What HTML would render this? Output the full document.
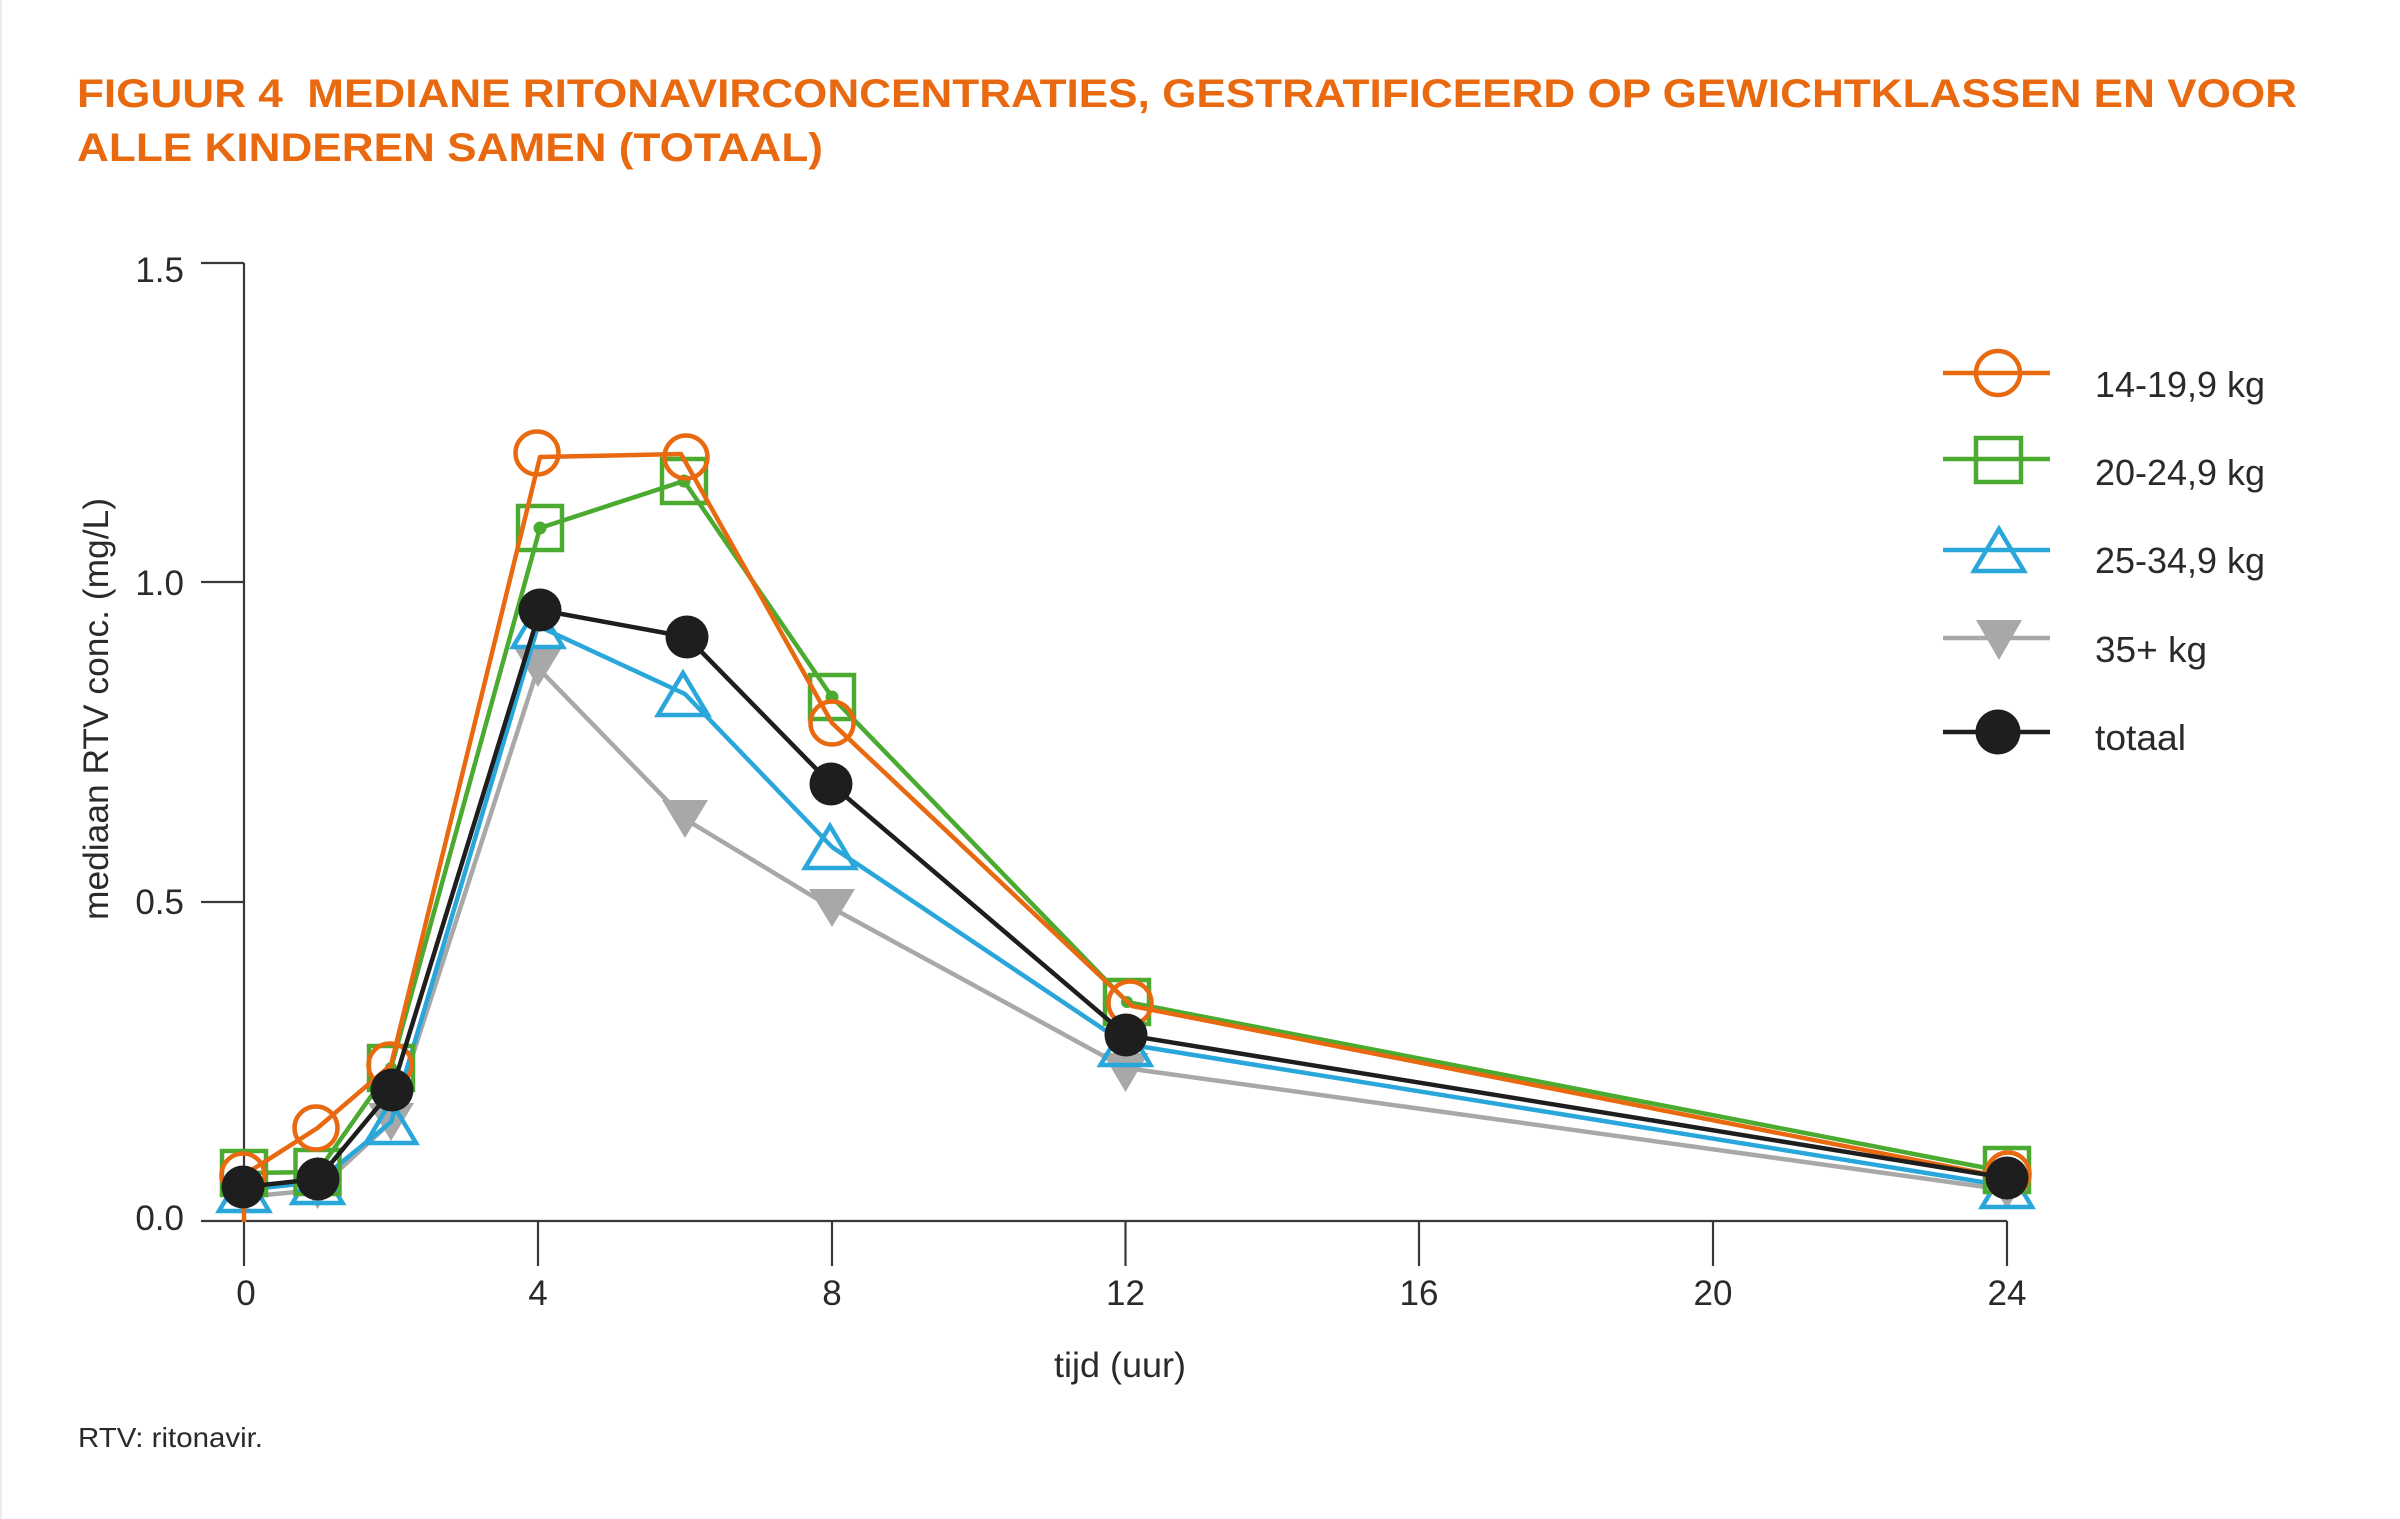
<!DOCTYPE html>
<html>
<head>
<meta charset="utf-8">
<style>
html,body{margin:0;padding:0;background:#fff;}
svg{display:block;}
text{font-family:"Liberation Sans",sans-serif;}
</style>
</head>
<body>
<svg width="2400" height="1519" viewBox="0 0 2400 1519" xmlns="http://www.w3.org/2000/svg">
<rect x="0" y="0" width="2400" height="1519" fill="#ffffff"/>
<line x1="1" y1="0" x2="1" y2="1519" stroke="#ececec" stroke-width="2"/>

<!-- Title -->
<text x="77" y="107" font-size="40" font-weight="bold" fill="#e8690f" textLength="2220" lengthAdjust="spacingAndGlyphs">FIGUUR 4&#160; MEDIANE RITONAVIRCONCENTRATIES, GESTRATIFICEERD OP GEWICHTKLASSEN EN VOOR</text>
<text x="77" y="161" font-size="40" font-weight="bold" fill="#e8690f" textLength="746" lengthAdjust="spacingAndGlyphs">ALLE KINDEREN SAMEN (TOTAAL)</text>

<!-- Axes -->
<g stroke="#383838" stroke-width="2.2" fill="none">
  <line x1="244" y1="263" x2="244" y2="1266"/>
  <line x1="201" y1="1221" x2="2007" y2="1221"/>
  <line x1="201" y1="263" x2="244" y2="263"/>
  <line x1="201" y1="582" x2="244" y2="582"/>
  <line x1="201" y1="902" x2="244" y2="902"/>
  <line x1="538" y1="1221" x2="538" y2="1266"/>
  <line x1="832" y1="1221" x2="832" y2="1266"/>
  <line x1="1125.5" y1="1221" x2="1125.5" y2="1266"/>
  <line x1="1419" y1="1221" x2="1419" y2="1266"/>
  <line x1="1713" y1="1221" x2="1713" y2="1266"/>
  <line x1="2007" y1="1221" x2="2007" y2="1266"/>
</g>

<!-- Y tick labels -->
<g font-size="35" fill="#2a2a2a" text-anchor="end">
  <text x="184" y="282">1.5</text>
  <text x="184" y="595">1.0</text>
  <text x="184" y="914">0.5</text>
  <text x="184" y="1230">0.0</text>
</g>
<!-- X tick labels -->
<g font-size="35" fill="#2a2a2a" text-anchor="middle">
  <text x="246" y="1305">0</text>
  <text x="538" y="1305">4</text>
  <text x="832" y="1305">8</text>
  <text x="1125.5" y="1305">12</text>
  <text x="1419" y="1305">16</text>
  <text x="1713" y="1305">20</text>
  <text x="2007" y="1305">24</text>
</g>

<!-- Axis titles -->
<text x="1120" y="1377" font-size="35" fill="#2a2a2a" text-anchor="middle" textLength="132" lengthAdjust="spacingAndGlyphs">tijd (uur)</text>
<text transform="translate(108,709) rotate(-90)" font-size="35" fill="#2a2a2a" text-anchor="middle" textLength="422" lengthAdjust="spacingAndGlyphs">mediaan RTV conc. (mg/L)</text>

<!-- Footnote -->
<text x="78" y="1447" font-size="28" fill="#2a2a2a" textLength="185" lengthAdjust="spacingAndGlyphs">RTV: ritonavir.</text>

<!-- Series: gray 35+ kg -->
<polyline fill="none" stroke="#a8a8a8" stroke-width="4.5" stroke-linejoin="round"
  points="244,1197 317.5,1190 391,1122 538,668 685,819 832,908 1125.5,1068 2007,1190"/>
<g fill="#a8a8a8">
  <polygon points="221,1178 267,1178 244,1216"/>
  <polygon points="294.5,1171 340.5,1171 317.5,1209"/>
  <polygon points="368,1103 414,1103 391,1141"/>
  <polygon points="515,649 561,649 538,687"/>
  <polygon points="662,800 708,800 685,838"/>
  <polygon points="809,889 855,889 832,927"/>
  <polygon points="1102.5,1053 1148.5,1053 1125.5,1092"/>
  <polygon points="1984,1171 2030,1171 2007,1209"/>
</g>

<!-- Series: blue 25-34,9 kg -->
<polyline fill="none" stroke="#2aa7da" stroke-width="4.5" stroke-linejoin="round"
  points="244,1190 317.5,1182 391,1122 538,626 685,694 832,847 1125.5,1044 2007,1186"/>
<g fill="none" stroke="#2aa7da" stroke-width="4.5" stroke-linejoin="miter">
  <polygon points="244,1169 269,1211 219,1211"/>
  <polygon points="317.5,1161 342.5,1203 292.5,1203"/>
  <polygon points="391,1101 416,1143 366,1143"/>
  <polygon points="538,605 563,647 513,647"/>
  <polygon points="683,673 708,715 658,715"/>
  <polygon points="830,826 855,868 805,868"/>
  <polygon points="1125.5,1023 1150.5,1065 1100.5,1065"/>
  <polygon points="2007,1165 2032,1207 1982,1207"/>
</g>

<!-- Series: green 20-24,9 kg -->
<polyline fill="none" stroke="#4aab30" stroke-width="4.5" stroke-linejoin="round"
  points="244,1173 317.5,1172 391,1068 540,528 684,481 832,697 1127,1002 2007,1172"/>
<g fill="none" stroke="#4aab30" stroke-width="4.5">
  <rect x="222" y="1151" width="44" height="44"/>
  <rect x="295.5" y="1150" width="44" height="44"/>
  <rect x="369" y="1046" width="44" height="44"/>
  <rect x="518" y="506" width="44" height="44"/>
  <rect x="662" y="459" width="44" height="44"/>
  <rect x="810" y="675" width="44" height="44"/>
  <rect x="1105" y="980" width="44" height="44"/>
  <rect x="1985" y="1148" width="44" height="44"/>
</g>
<g fill="#4aab30">
  <circle cx="391" cy="1068" r="6"/>
  <circle cx="540" cy="528" r="6.5"/>
  <circle cx="684" cy="481" r="6.5"/>
  <circle cx="832" cy="697" r="6.5"/>
  <circle cx="1127" cy="1002" r="6"/>
</g>

<!-- Series: orange 14-19,9 kg -->
<line x1="244" y1="1190" x2="244" y2="1222" stroke="#e8690f" stroke-width="4.5"/>
<polyline fill="none" stroke="#e8690f" stroke-width="4.5" stroke-linejoin="round"
  points="244,1175 317.5,1128 391,1065 540,457 681,454 832,723 1132,1006 2007,1178"/>
<g fill="none" stroke="#e8690f" stroke-width="4.5">
  <circle cx="243" cy="1175" r="21.5"/>
  <circle cx="316" cy="1128" r="21.5"/>
  <circle cx="390" cy="1065" r="21.5"/>
  <circle cx="537" cy="453" r="21.5"/>
  <circle cx="686" cy="457" r="21.5"/>
  <circle cx="832" cy="723" r="21.5"/>
  <circle cx="1130" cy="1003" r="21.5"/>
  <circle cx="2008" cy="1174" r="21.5"/>
</g>

<!-- Series: black totaal -->
<polyline fill="none" stroke="#1e1e1e" stroke-width="4.5" stroke-linejoin="round"
  points="243,1187 318,1179 392,1090 540,610 687,637 831,784 1126,1035 2007,1178"/>
<g fill="#1e1e1e">
  <circle cx="243" cy="1187" r="21.5"/>
  <circle cx="318" cy="1179" r="21.5"/>
  <circle cx="392" cy="1090" r="21.5"/>
  <circle cx="540" cy="610" r="21.5"/>
  <circle cx="687" cy="637" r="21.5"/>
  <circle cx="831" cy="784" r="21.5"/>
  <circle cx="1126" cy="1035" r="21.5"/>
  <circle cx="2007" cy="1178" r="21.5"/>
</g>

<!-- Legend -->
<g>
  <line x1="1943" y1="373" x2="2050" y2="373" stroke="#e8690f" stroke-width="4.5"/>
  <circle cx="1998" cy="373" r="22" fill="none" stroke="#e8690f" stroke-width="4.5"/>
  <text x="2095" y="397" font-size="36" fill="#2a2a2a" textLength="170" lengthAdjust="spacingAndGlyphs">14-19,9 kg</text>

  <line x1="1943" y1="459" x2="2050" y2="459" stroke="#4aab30" stroke-width="4.5"/>
  <rect x="1976" y="438" width="45" height="44" fill="none" stroke="#4aab30" stroke-width="4.5"/>
  <text x="2095" y="485" font-size="36" fill="#2a2a2a" textLength="170" lengthAdjust="spacingAndGlyphs">20-24,9 kg</text>

  <line x1="1943" y1="550" x2="2050" y2="550" stroke="#2aa7da" stroke-width="4.5"/>
  <polygon points="1999,529 2024,571 1974,571" fill="none" stroke="#2aa7da" stroke-width="4.5"/>
  <text x="2095" y="573" font-size="36" fill="#2a2a2a" textLength="170" lengthAdjust="spacingAndGlyphs">25-34,9 kg</text>

  <line x1="1943" y1="638" x2="2050" y2="638" stroke="#a8a8a8" stroke-width="4.5"/>
  <polygon points="1976,620 2022,620 1999,660" fill="#a8a8a8"/>
  <text x="2095" y="662" font-size="36" fill="#2a2a2a" textLength="112" lengthAdjust="spacingAndGlyphs">35+ kg</text>

  <line x1="1943" y1="732" x2="2050" y2="732" stroke="#1e1e1e" stroke-width="4.5"/>
  <circle cx="1998" cy="732" r="22.5" fill="#1e1e1e"/>
  <text x="2095" y="750" font-size="36" fill="#2a2a2a" textLength="91" lengthAdjust="spacingAndGlyphs">totaal</text>
</g>
</svg>
</body>
</html>
